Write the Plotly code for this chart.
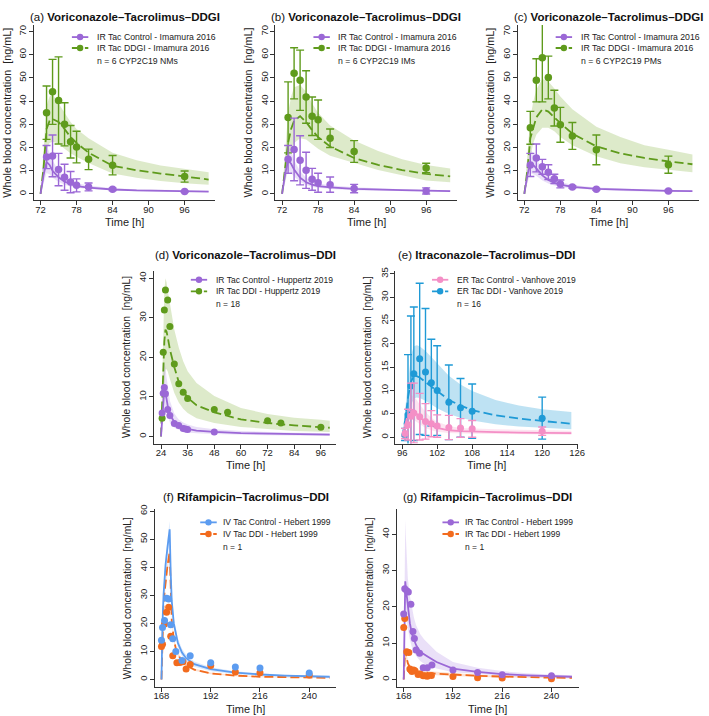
import plotly.graph_objects as go

W, H = 709, 716
FONT = "Liberation Sans, Arial, Helvetica, sans-serif"

PURPLE = "#9b68d6"
GREEN = "#5f9b1c"
PINK = "#f48fc6"
BLUE_E = "#1f9ad6"
BLUE_F = "#5c9cf0"
ORANGE = "#f26b1e"
PURPLE_BAND = "rgba(160,112,222,0.22)"
GREEN_BAND = "rgba(120,170,45,0.25)"
PINK_BAND = "rgba(246,150,200,0.25)"
BLUE_E_BAND = "rgba(40,160,215,0.30)"
BLUE_F_BAND = "rgba(92,156,240,0.22)"
ORANGE_BAND = "rgba(242,107,30,0.20)"

# ---------------- data: panels (a)-(c), Imamura 2016 ----------------
ROW1_OBS_T = [73, 74, 75, 76, 77, 78, 80, 84, 96]
ROW1_SIM_T = [72, 72.5, 73, 73.5, 74, 75, 76, 77, 78, 80, 84, 88, 92, 96, 100]

A_CTRL_MEAN = [15.9, 16.4, 10.5, 7.2, 5.1, 3.7, 3.0, 2.0, 1.0]
A_CTRL_SD = [5.0, 9.0, 7.0, 5.6, 4.6, 2.8, 1.7, 0.5, 0.3]
A_DDI_MEAN = [35.0, 44.0, 40.3, 30.0, 22.5, 20.2, 14.9, 12.4, 7.5]
A_DDI_SD = [11.5, 14.0, 18.8, 9.3, 7.0, 6.8, 4.4, 4.2, 2.4]
A_CTRL_MED = [0, 8, 13.8, 12.5, 10, 7.2, 5.3, 4.2, 3.4, 2.7, 1.9, 1.5, 1.3, 1.1, 1.0]
A_CTRL_LO = [0, 5, 9, 8.5, 7, 5.2, 4, 3.2, 2.7, 2.1, 1.5, 1.2, 1.0, 0.9, 0.8]
A_CTRL_HI = [0, 13, 21, 18, 14.5, 10, 7.3, 5.7, 4.6, 3.6, 2.5, 2.0, 1.7, 1.5, 1.35]
A_DDI_MED = [0, 11, 28, 31.5, 32.3, 31, 28, 24.5, 22, 17.8, 12.1, 10.2, 8.8, 7.4, 6.2]
A_DDI_LO = [0, 6, 19, 22, 22.5, 21.6, 19.5, 17.5, 16, 13.3, 8.8, 7, 5.6, 4.6, 4.0]
A_DDI_HI = [0, 18, 38, 42, 43, 39, 35, 31, 28, 24, 17.8, 14.5, 12.3, 10.7, 9.3]

B_CTRL_MEAN = [14.9, 19.2, 14.5, 10.2, 6.3, 4.8, 4.0, 2.3, 1.3]
B_CTRL_SD = [6.0, 13.5, 10.6, 7.8, 4.7, 4.1, 3.3, 1.8, 1.3]
B_DDI_MEAN = [33.0, 52.0, 49.0, 41.8, 33.5, 32.0, 24.0, 18.3, 11.2]
B_DDI_SD = [15.3, 11.0, 13.0, 11.3, 8.3, 8.5, 4.0, 4.7, 2.0]
B_CTRL_MED = [0, 8.5, 14.5, 13, 10.5, 7, 5, 4, 3.4, 2.8, 2.2, 1.8, 1.6, 1.4, 1.2]
B_CTRL_LO = [0, 5.5, 10, 9, 7.5, 5.2, 3.8, 3.0, 2.6, 2.1, 1.6, 1.3, 1.1, 1.0, 0.9]
B_CTRL_HI = [0, 13, 21, 18.5, 14.5, 9.8, 7, 5.5, 4.5, 3.7, 2.9, 2.3, 2.0, 1.8, 1.6]
B_DDI_MED = [0, 10, 22, 28, 31.5, 33.5, 31, 27.5, 24.5, 20.5, 15.5, 12.5, 10.3, 8.6, 7.6]
B_DDI_LO = [0, 5, 13, 19, 22, 24, 23.5, 21.5, 19.5, 16.5, 13.5, 10.3, 8.0, 5.8, 5.0]
B_DDI_HI = [0, 18, 35, 42, 46, 47, 44, 39, 35, 29.5, 23, 18.5, 15, 12.5, 11]

C_CTRL_MEAN = [12.5, 15.5, 11.7, 9.4, 6.5, 4.3, 3.0, 2.0, 1.3]
C_CTRL_SD = [5.0, 6.0, 3.2, 3.2, 2.0, 1.7, 0.5, 0.4, 0.3]
C_DDI_MEAN = [28.5, 49.0, 58.7, 50.2, 37.0, 29.8, 25.0, 19.0, 12.6]
C_DDI_SD = [7.1, 9.3, 19.0, 9.2, 7.7, 7.5, 5.8, 6.4, 3.7]
C_CTRL_MED = [0, 8, 13, 12.5, 11, 8, 6, 4.8, 4, 3, 2.2, 1.8, 1.5, 1.3, 1.2]
C_CTRL_LO = [0, 5, 9, 8.5, 7.8, 5.8, 4.5, 3.6, 3.0, 2.3, 1.7, 1.3, 1.1, 1.0, 0.9]
C_CTRL_HI = [0, 12, 19, 17.5, 15, 11, 8, 6.3, 5.2, 3.9, 2.8, 2.3, 2.0, 1.7, 1.5]
C_DDI_MED = [0, 10, 24, 29, 33, 36.5, 35.5, 33, 30.5, 26, 20.5, 17.5, 15.5, 14, 12.8]
C_DDI_LO = [0, 5, 16, 22, 25.5, 28.5, 28.5, 27, 24.5, 21, 16.2, 13.2, 11.5, 10.3, 9.3]
C_DDI_HI = [0, 16, 33, 40, 45, 49.5, 48.5, 45.5, 42, 36.5, 29, 24.5, 21, 19, 17]

# ---------------- panel (d), Huppertz 2019 ----------------
D_CTRL_T = [24.5, 25, 25.5, 26, 27, 28, 30, 32, 34, 35, 36, 48]
D_CTRL_V = [5.9, 10.9, 12.4, 10.8, 6.8, 5.3, 3.3, 2.8, 2.0, 1.9, 1.75, 1.1]
D_DDI_T = [24.5, 25, 25.5, 26, 27, 28, 30, 32, 34, 36, 48, 54, 72, 78, 96]
D_DDI_V = [4.6, 21.3, 32, 37, 34.5, 27.8, 18.3, 13.3, 11.2, 9.6, 6.8, 6.1, 4.0, 3.4, 2.3]
D_SIM_T = [24, 24.5, 25, 25.5, 26, 26.5, 27, 28, 30, 32, 34, 36, 40, 48, 60, 72, 84, 96, 100]
D_CTRL_MED = [0, 5, 10, 12, 11.2, 9.5, 7.8, 5.6, 3.6, 2.7, 2.2, 1.9, 1.5, 1.15, 0.85, 0.7, 0.6, 0.5, 0.48]
D_CTRL_LO = [0, 3, 6, 7.5, 7, 6, 5, 3.5, 2.2, 1.6, 1.2, 1.0, 0.8, 0.6, 0.4, 0.3, 0.25, 0.2, 0.2]
D_CTRL_HI = [0, 9, 16, 18.5, 17.5, 15, 12.5, 9, 5.8, 4.3, 3.5, 3.0, 2.4, 1.8, 1.35, 1.1, 0.95, 0.85, 0.8]
D_DDI_MED = [0, 8, 18, 24, 27, 26.5, 25.2, 22, 17.5, 13.8, 11.5, 9.8, 7.9, 6.1, 4.3, 3.4, 2.8, 2.3, 2.2]
D_DDI_LO = [0, 4, 10, 14.5, 17, 17, 16.5, 14.5, 11, 8.6, 7, 5.9, 4.6, 3.4, 2.4, 1.9, 1.4, 1.2, 1.1]
D_DDI_HI = [0, 14, 30, 37, 40, 39, 37, 34, 27, 22.5, 19, 16.5, 13.5, 10.2, 7.2, 5.7, 4.7, 4.2, 4.0]

# ---------------- panel (e), Vanhove 2019 ----------------
E_OBS_T = [96.5, 97, 97.5, 98, 99, 100, 101, 102, 104, 106, 108, 120]
E_CTRL_MEAN = [0.8, 2.7, 4.5, 5.2, 4.4, 3.4, 2.9, 2.4, 2.1, 2.0, 1.8, 1.3]
E_CTRL_SD = [1.1, 3.3, 7.1, 6.4, 5.0, 3.8, 2.8, 2.4, 2.6, 2.0, 1.8, 0.9]
E_DDI_MEAN = [0.6, 4.8, 11.0, 13.6, 16.8, 14.0, 11.7, 10.0, 7.5, 6.3, 5.6, 4.1]
E_DDI_SD = [1.3, 12.9, 15.0, 14.3, 16.2, 13.6, 9.3, 9.6, 8.0, 6.3, 5.8, 4.5]
E_SIM_T = [96, 96.5, 97, 97.5, 98, 98.5, 99, 100, 101, 102, 104, 106, 108, 112, 116, 120, 125]
E_CTRL_MED = [0, 2.5, 5.0, 6.0, 5.8, 5.0, 4.3, 3.2, 2.5, 2.0, 1.5, 1.3, 1.2, 1.1, 1.0, 0.95, 0.9]
E_CTRL_LO = [0, 1.3, 3.0, 3.7, 3.7, 3.3, 2.8, 2.0, 1.5, 1.2, 0.9, 0.8, 0.75, 0.7, 0.65, 0.6, 0.55]
E_CTRL_HI = [0, 4, 7.8, 9.0, 8.8, 8.0, 7.0, 5.4, 4.2, 3.3, 2.4, 2.0, 1.85, 1.7, 1.6, 1.5, 1.4]
E_DDI_MED = [0, 3.5, 8.5, 11.8, 13.2, 13.1, 12.8, 11.8, 10.8, 9.8, 8.0, 6.8, 5.8, 4.7, 4.0, 3.5, 2.9]
E_DDI_LO = [0, 1.5, 4.5, 6.8, 8.3, 8.5, 8.4, 7.8, 7.0, 6.2, 5.0, 4.2, 3.6, 2.8, 2.3, 2.0, 1.7]
E_DDI_HI = [0, 6, 13, 17.5, 19.5, 19.7, 19.5, 18.5, 17.2, 15.8, 13.2, 11.3, 9.9, 8.0, 6.8, 6.0, 5.4]

# ---------------- panel (f), Hebert 1999 IV ----------------
F_CTRL_T = [168, 168.5, 169.5, 170.5, 171.5, 172.5, 173.5, 175, 178, 182, 192, 204, 216, 240]
F_CTRL_V = [14, 18.5, 21, 29, 28.7, 19.5, 14.5, 10, 6.8, 8.5, 6, 4.5, 4.1, 2.3]
F_DDI_T = [168, 168.5, 169.5, 170.5, 171.5, 172.5, 173.5, 175.5, 177, 178.5, 180, 182, 192, 204, 216, 240]
F_DDI_V = [11.8, 12.6, 19.8, 24, 25.8, 15.4, 8.5, 6, 6.1, 6.3, 3.8, 5.4, 5, 2.7, 2.4, 1.6]
F_SIM_T = [168, 168.25, 168.5, 169, 169.5, 170, 171, 172, 172.5, 173, 174, 175, 176, 178, 180, 184, 192, 204, 216, 228, 240, 250]
F_CTRL_MED = [0, 13, 20, 30, 36, 41, 47.5, 53.5, 38, 28, 20, 16, 13, 9.6, 7.6, 5.5, 3.7, 2.5, 1.8, 1.4, 1.15, 1.0]
F_CTRL_LO = [0, 12, 18.5, 28, 34, 38.5, 44.5, 50.5, 35, 25.5, 18, 14.2, 11.5, 8.3, 6.5, 4.6, 3.0, 1.9, 1.35, 1.05, 0.85, 0.75]
F_CTRL_HI = [0, 14, 21.5, 32, 38, 43.5, 50.5, 56.5, 41, 30.5, 22, 17.8, 14.6, 11, 8.8, 6.4, 4.4, 3.0, 2.2, 1.75, 1.45, 1.3]
F_DDI_MED = [0, 10, 17, 26, 31, 35, 41, 45.5, 30, 21, 14.5, 11, 9, 6.6, 5.1, 3.5, 2.2, 1.4, 1.0, 0.8, 0.7, 0.6]
F_DDI_LO = [0, 9.3, 16, 24.5, 29.5, 33.5, 39, 43.5, 28.5, 19.8, 13.5, 10.2, 8.3, 6.0, 4.6, 3.1, 1.9, 1.2, 0.85, 0.68, 0.58, 0.5]
F_DDI_HI = [0, 10.7, 18, 27.5, 32.5, 36.5, 43, 47.5, 31.5, 22.2, 15.5, 11.8, 9.7, 7.2, 5.6, 3.9, 2.5, 1.6, 1.15, 0.92, 0.8, 0.7]

# ---------------- panel (g), Hebert 1999 oral ----------------
G_CTRL_T = [168, 168.5, 169.5, 170.25, 171.5, 172.5, 173.2, 174, 175.75, 177.5, 179.5, 181.75, 192, 204, 216, 240]
G_CTRL_V = [18, 25, 24.4, 24.1, 20.7, 13.2, 11.3, 8.1, 7.2, 3.2, 3.2, 4.0, 2.6, 1.9, 1.3, 1.0]
G_DDI_T = [168, 168.5, 169.5, 170.5, 171, 171.5, 172, 172.75, 173.5, 175, 176, 177.5, 178.5, 179.5, 181.5, 192, 204, 216, 240]
G_DDI_V = [14.3, 16.8, 7.6, 7.4, 2.9, 2.6, 2.2, 2.6, 2.4, 1.4, 1.5, 1.0, 1.0, 0.9, 1.1, 0.8, 0.5, 0.4, 0.2]
G_SIM_T = [168, 168.25, 168.5, 168.75, 169, 169.5, 170, 171, 172, 173, 174, 176, 178, 180, 184, 192, 204, 216, 228, 240, 250]
G_CTRL_MED = [0, 14, 24, 27, 25.5, 22.5, 19.5, 15.5, 12.5, 10.8, 9.5, 7.6, 6.8, 6.2, 4.8, 3.0, 2.1, 1.5, 1.15, 0.9, 0.75]
G_CTRL_LO = [0, 9, 16, 20, 19, 16.5, 14, 11, 8.8, 7.5, 6.5, 5.1, 4.3, 3.8, 3.0, 2.0, 1.4, 1.0, 0.75, 0.6, 0.5]
G_CTRL_HI = [0, 22, 38, 44, 40, 33, 28, 23, 19.5, 17, 15, 12.5, 11, 9.8, 7.6, 4.8, 3.2, 2.3, 1.7, 1.35, 1.15]
G_DDI_MED = [0, 5, 7.5, 8, 7.2, 5.6, 4.5, 3.3, 2.7, 2.4, 2.2, 2.0, 1.9, 1.8, 1.6, 1.3, 1.0, 0.8, 0.6, 0.5, 0.45]
G_DDI_LO = [0, 4.2, 6.4, 6.8, 6.1, 4.7, 3.7, 2.7, 2.2, 1.9, 1.7, 1.5, 1.4, 1.3, 1.15, 0.9, 0.7, 0.55, 0.42, 0.35, 0.3]
G_DDI_HI = [0, 5.8, 8.6, 9.3, 8.4, 6.6, 5.3, 4.0, 3.3, 2.9, 2.7, 2.5, 2.4, 2.3, 2.1, 1.7, 1.3, 1.05, 0.8, 0.67, 0.6]

# ---------------- tick labels ----------------
ROW1_XTICKS = [72, 78, 84, 90, 96]
ROW1_YTICKS = [0, 10, 20, 30, 40, 50, 60, 70]
D_XTICKS = [24, 36, 48, 60, 72, 84, 96]
D_YTICKS = [0, 10, 20, 30, 40]
E_XTICKS = [96, 102, 108, 114, 120, 126]
E_YTICKS = [0, 5, 10, 15, 20, 25, 30, 35]
FG_XTICKS = [168, 192, 216, 240]
F_YTICKS = [0, 10, 20, 30, 40, 50, 60]
G_YTICKS = [0, 10, 20, 30, 40]


def ser(label, color, band, dash, st, med, lo, hi, ot, ov, osd=None):
    return dict(label=label, color=color, band=band, dash=dash, st=st, med=med, lo=lo, hi=hi,
                ot=ot, ov=ov, osd=osd)


ROW1_LEG = dict(lx0=38.5, lx1=55.1, tx=61.8, rows=(12.1, 23.1, 36.5), fs=8.7)
ROW2_LEG = dict(lx0=37, lx1=53.5, tx=60, rows=(8.7, 20.3, 33), fs=8.5)
ROW3_LEG = dict(lx0=46, lx1=62.7, tx=67.2, rows=(13, 24.7, 38), fs=8.5)

panels = [
    dict(tag="(a)", title="Voriconazole–Tacrolimus–DDGI", box=(33.2, 216.8, 20.2, 196.8), ty=12,
         xr=[70.88, 101.12], yr=[-2.8, 72.8], xt=ROW1_XTICKS, yt=ROW1_YTICKS, leg=ROW1_LEG,
         note="n = 6 CYP2C19 NMs", ms=7.5, ylab_fs=10.8,
         series=[ser("IR Tac DDGI - Imamura 2016", GREEN, GREEN_BAND, "dash", ROW1_SIM_T, A_DDI_MED, A_DDI_LO, A_DDI_HI, ROW1_OBS_T, A_DDI_MEAN, A_DDI_SD),
                 ser("IR Tac Control - Imamura 2016", PURPLE, PURPLE_BAND, "solid", ROW1_SIM_T, A_CTRL_MED, A_CTRL_LO, A_CTRL_HI, ROW1_OBS_T, A_CTRL_MEAN, A_CTRL_SD)]),
    dict(tag="(b)", title="Voriconazole–Tacrolimus–DDGI", box=(277.5, 461.1, 20.2, 196.8), ty=12,
         xr=[70.88, 101.12], yr=[-2.8, 72.8], xt=ROW1_XTICKS, yt=ROW1_YTICKS, leg=ROW1_LEG,
         note="n = 6 CYP2C19 IMs", ms=7.5, ylab_fs=10.8,
         series=[ser("IR Tac DDGI - Imamura 2016", GREEN, GREEN_BAND, "dash", ROW1_SIM_T, B_DDI_MED, B_DDI_LO, B_DDI_HI, ROW1_OBS_T, B_DDI_MEAN, B_DDI_SD),
                 ser("IR Tac Control - Imamura 2016", PURPLE, PURPLE_BAND, "solid", ROW1_SIM_T, B_CTRL_MED, B_CTRL_LO, B_CTRL_HI, ROW1_OBS_T, B_CTRL_MEAN, B_CTRL_SD)]),
    dict(tag="(c)", title="Voriconazole–Tacrolimus–DDGI", box=(522.5, 706.1, 20.2, 196.8), ty=12,
         xr=[70.88, 101.12], yr=[-2.8, 72.8], xt=ROW1_XTICKS, yt=ROW1_YTICKS, leg=ROW1_LEG,
         note="n = 6 CYP2C19 PMs", ms=7.5, ylab_fs=10.8,
         series=[ser("IR Tac DDGI - Imamura 2016", GREEN, GREEN_BAND, "dash", ROW1_SIM_T, C_DDI_MED, C_DDI_LO, C_DDI_HI, ROW1_OBS_T, C_DDI_MEAN, C_DDI_SD),
                 ser("IR Tac Control - Imamura 2016", PURPLE, PURPLE_BAND, "solid", ROW1_SIM_T, C_CTRL_MED, C_CTRL_LO, C_CTRL_HI, ROW1_OBS_T, C_CTRL_MEAN, C_CTRL_SD)]),
    dict(tag="(d)", title="Voriconazole–Tacrolimus–DDI", box=(155, 339.3, 268, 441.7), ty=251.7,
         xr=[20.96, 103.04], yr=[-1.81, 41.8], xt=D_XTICKS, yt=D_YTICKS, leg=ROW2_LEG,
         note="n = 18", ms=7, ylab_fs=10.3,
         series=[ser("IR Tac DDI - Huppertz 2019", GREEN, GREEN_BAND, "dash", D_SIM_T, D_DDI_MED, D_DDI_LO, D_DDI_HI, D_DDI_T, D_DDI_V),
                 ser("IR Tac Control - Huppertz 2019", PURPLE, PURPLE_BAND, "solid", D_SIM_T, D_CTRL_MED, D_CTRL_LO, D_CTRL_HI, D_CTRL_T, D_CTRL_V)]),
    dict(tag="(e)", title="Itraconazole–Tacrolimus–DDI", box=(398.9, 583.7, 268, 441.7), ty=251.7,
         xr=[94.84, 126.16], yr=[-1.36, 35.6], xt=E_XTICKS, yt=E_YTICKS, leg=ROW2_LEG,
         note="n = 16", ms=7, ylab_fs=10.3,
         series=[ser("ER Tac DDI - Vanhove 2019", BLUE_E, BLUE_E_BAND, "dash", E_SIM_T, E_DDI_MED, E_DDI_LO, E_DDI_HI, E_OBS_T, E_DDI_MEAN, E_DDI_SD),
                 ser("ER Tac Control - Vanhove 2019", PINK, PINK_BAND, "solid", E_SIM_T, E_CTRL_MED, E_CTRL_LO, E_CTRL_HI, E_OBS_T, E_CTRL_MEAN, E_CTRL_SD)]),
    dict(tag="(f)", title="Rifampicin–Tacrolimus–DDI", box=(155.5, 339.3, 508, 686.5), ty=495,
         xr=[164.72, 253.28], yr=[-2.55, 60.6], xt=FG_XTICKS, yt=F_YTICKS, leg=ROW3_LEG,
         note="n = 1", ms=7, ylab_fs=10.3,
         series=[ser("IV Tac DDI - Hebert 1999", ORANGE, ORANGE_BAND, "dash", F_SIM_T, F_DDI_MED, F_DDI_LO, F_DDI_HI, F_DDI_T, F_DDI_V),
                 ser("IV Tac Control - Hebert 1999", BLUE_F, BLUE_F_BAND, "solid", F_SIM_T, F_CTRL_MED, F_CTRL_LO, F_CTRL_HI, F_CTRL_T, F_CTRL_V)]),
    dict(tag="(g)", title="Rifampicin–Tacrolimus–DDI", box=(400.5, 584.3, 508, 686.5), ty=495,
         xr=[164.72, 253.28], yr=[-1.99, 46.8], xt=FG_XTICKS, yt=G_YTICKS, leg=ROW3_LEG,
         note="n = 1", ms=7, ylab_fs=10.3,
         series=[ser("IR Tac DDI - Hebert 1999", ORANGE, ORANGE_BAND, "dash", G_SIM_T, G_DDI_MED, G_DDI_LO, G_DDI_HI, G_DDI_T, G_DDI_V),
                 ser("IR Tac Control - Hebert 1999", PURPLE, PURPLE_BAND, "solid", G_SIM_T, G_CTRL_MED, G_CTRL_LO, G_CTRL_HI, G_CTRL_T, G_CTRL_V)]),
]


def PX(x):
    return x / W


def PY(y):
    return 1 - y / H


DASH = "9px,4px"
fig = go.Figure()
layout = dict(width=W, height=H, margin=dict(l=0, r=0, t=0, b=0), paper_bgcolor="white",
              plot_bgcolor="white", showlegend=False, font=dict(family=FONT, color="#222"))
annotations = []
shapes = []

for i, p in enumerate(panels, start=1):
    xa = "x" if i == 1 else f"x{i}"
    ya = "y" if i == 1 else f"y{i}"
    L, R, T, B = p["box"]
    axis_common = dict(showgrid=False, zeroline=False, showline=True, linecolor="#333", linewidth=1,
                       ticks="outside", ticklen=4, tickwidth=1, tickcolor="#333",
                       tickfont=dict(size=9.5, family=FONT, color="#222"))
    layout["xaxis" if i == 1 else f"xaxis{i}"] = dict(domain=[PX(L), PX(R)], range=p["xr"], anchor=ya,
                                                        tickmode="array", tickvals=p["xt"],
                                                        ticklabelstandoff=-4, **axis_common)
    layout["yaxis" if i == 1 else f"yaxis{i}"] = dict(domain=[PY(B), PY(T)], range=p["yr"], anchor=xa,
                                                        tickmode="array", tickvals=p["yt"], tickangle=-90,
                                                        ticklabelstandoff=-1, **axis_common)
    sers = p["series"]
    # bands
    for s in sers:
        fig.add_trace(go.Scatter(x=s["st"], y=s["lo"], mode="lines", line=dict(width=0, color=s["band"]),
                                 xaxis=xa, yaxis=ya, hoverinfo="skip"))
        fig.add_trace(go.Scatter(x=s["st"], y=s["hi"], mode="lines", line=dict(width=0, color=s["band"]),
                                 fill="tonexty", fillcolor=s["band"], xaxis=xa, yaxis=ya, hoverinfo="skip"))
    # median lines
    for s in sers:
        fig.add_trace(go.Scatter(x=s["st"], y=s["med"], mode="lines",
                                 line=dict(width=1.8, color=s["color"], dash=DASH if s["dash"] == "dash" else "solid"),
                                 xaxis=xa, yaxis=ya))
    # observations
    for s in sers:
        err = None
        if s["osd"] is not None:
            err = dict(type="data", array=s["osd"], visible=True, color=s["color"], thickness=1.4, width=4)
        fig.add_trace(go.Scatter(x=s["ot"], y=s["ov"], mode="markers",
                                 marker=dict(size=p["ms"], color=s["color"], line=dict(width=0)),
                                 error_y=err, xaxis=xa, yaxis=ya))

    # title
    annotations.append(dict(x=PX((L + R) / 2), y=PY(p["ty"]), xref="paper", yref="paper",
                            text=f"{p['tag']} <b>{p['title']}</b>", showarrow=False,
                            xanchor="center", yanchor="middle",
                            font=dict(size=11.5, family=FONT, color="#111")))
    # axis titles
    annotations.append(dict(x=PX((L + R) / 2), y=PY(B + 22), xref="paper", yref="paper",
                            text="Time [h]", showarrow=False, xanchor="center", yanchor="middle",
                            font=dict(size=11, family=FONT, color="#222")))
    annotations.append(dict(x=PX(max(L - 28, 6)), y=PY((T + B) / 2), xref="paper", yref="paper",
                            text="Whole blood concentration&nbsp; [ng/mL]", textangle=-90, showarrow=False,
                            xanchor="center", yanchor="middle",
                            font=dict(size=p["ylab_fs"], family=FONT, color="#222")))
    # legend (control first, then DDI)
    lg = p["leg"]
    for row, s in zip(lg["rows"][:2], [sers[1], sers[0]]):
        yy = PY(T + row)
        shapes.append(dict(type="line", xref="paper", yref="paper", x0=PX(L + lg["lx0"]), x1=PX(L + lg["lx1"]),
                           y0=yy, y1=yy, line=dict(color=s["color"], width=1.8,
                                                    dash=DASH if s["dash"] == "dash" else "solid")))
        cx = PX(L + (lg["lx0"] + lg["lx1"]) / 2)
        shapes.append(dict(type="circle", xref="paper", yref="paper", xsizemode="pixel", ysizemode="pixel",
                           xanchor=cx, yanchor=yy, x0=-3.2, x1=3.2, y0=-3.2, y1=3.2,
                           fillcolor=s["color"], line=dict(width=0)))
        annotations.append(dict(x=PX(L + lg["tx"]), y=yy, xref="paper", yref="paper", text=s["label"],
                                showarrow=False, xanchor="left", yanchor="middle",
                                font=dict(size=lg["fs"], family=FONT, color="#222")))
    annotations.append(dict(x=PX(L + lg["tx"]), y=PY(T + lg["rows"][2]), xref="paper", yref="paper",
                            text=p["note"], showarrow=False, xanchor="left", yanchor="middle",
                            font=dict(size=lg["fs"], family=FONT, color="#222")))

layout["annotations"] = annotations
layout["shapes"] = shapes
fig.update_layout(**layout)
fig.write_html("out.html", config={"displayModeBar": False},
               post_script="document.body.style.margin='0px';document.body.style.overflow='hidden';")
